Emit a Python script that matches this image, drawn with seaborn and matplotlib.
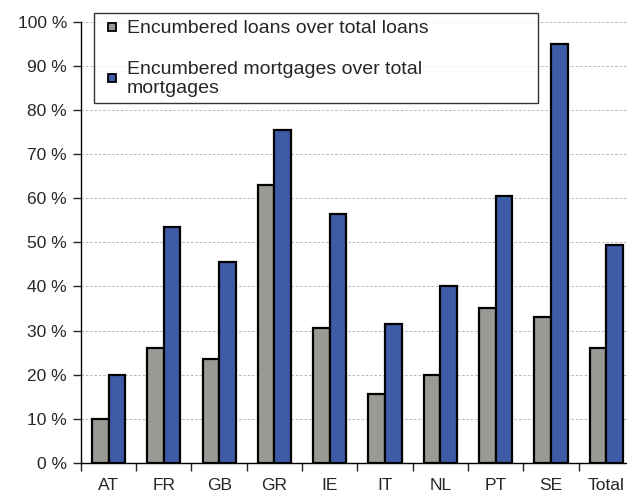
import pandas as pd
import matplotlib.pyplot as plt
import seaborn as sns
from matplotlib.lines import Line2D
from matplotlib.ticker import FixedLocator

sns.set_style("white")
plt.rcParams['font.family'] = ['Liberation Sans', 'DejaVu Sans']

countries = ["AT", "FR", "GB", "GR", "IE", "IT", "NL", "PT", "SE", "Total"]
loans = [10, 26, 23.5, 63, 30.5, 15.5, 20, 35, 33, 26]
mortgages = [20, 53.5, 45.5, 75.5, 56.5, 31.5, 40, 60.5, 95, 49.5]
series = ["Encumbered loans over total loans",
          "Encumbered mortgages over total\nmortgages"]
colors = ["#9b9994", "#3e5ba8"]

df = pd.DataFrame({
    "country": countries * 2,
    "value": loans + mortgages,
    "series": [series[0]] * len(countries) + [series[1]] * len(countries),
})

fig = plt.figure(figsize=(6.27, 4.95), dpi=100)
ax = fig.add_axes([0.129, 0.065, 0.882, 0.891])

sns.barplot(data=df, x="country", y="value", hue="series", palette=colors,
            width=0.6, edgecolor="black", linewidth=1.6, saturation=1,
            legend=False, ax=ax)

ax.set_ylim(0, 100)
ax.set_xlim(-0.5, len(countries) - 0.5)
ax.set_yticks(range(0, 101, 10))
ax.set_yticklabels([f"{v} %" for v in range(0, 101, 10)], fontsize=12.5)
ax.tick_params(axis="y", direction="out", length=6, width=1, left=True, pad=4)
ax.tick_params(axis="x", which="major", length=0, labelsize=12.5, pad=11)
ax.xaxis.set_minor_locator(FixedLocator([i + 0.5 for i in range(-1, len(countries))]))
ax.tick_params(axis="x", which="minor", direction="out", length=6, width=1, bottom=True)
ax.set_xlabel("")
ax.set_ylabel("")

for y in range(10, 101, 10):
    ax.axhline(y, color="#b5b5b5", lw=0.7, ls=(0, (2.5, 2)), zorder=0)

for side in ["top", "right"]:
    ax.spines[side].set_visible(False)
for side in ["left", "bottom"]:
    ax.spines[side].set_color("black")
    ax.spines[side].set_linewidth(1)

handles = [Line2D([], [], marker="s", linestyle="none", markersize=5.5,
                  markerfacecolor=c, markeredgecolor="black", markeredgewidth=1.3)
           for c in colors]
leg = ax.legend(handles, series, loc="upper left",
                bbox_to_anchor=(0.0235, 0.0, 0.803, 1.02), mode="expand",
                prop={"size": 14}, frameon=True, fancybox=False, edgecolor="black",
                handlelength=1.2, handletextpad=0.15,
                labelspacing=1.2, borderpad=0.35, borderaxespad=0)
leg.get_frame().set_linewidth(1)
for t in leg.get_texts():
    t.set_linespacing(1.15)

fig.savefig("out.png", dpi=100)
